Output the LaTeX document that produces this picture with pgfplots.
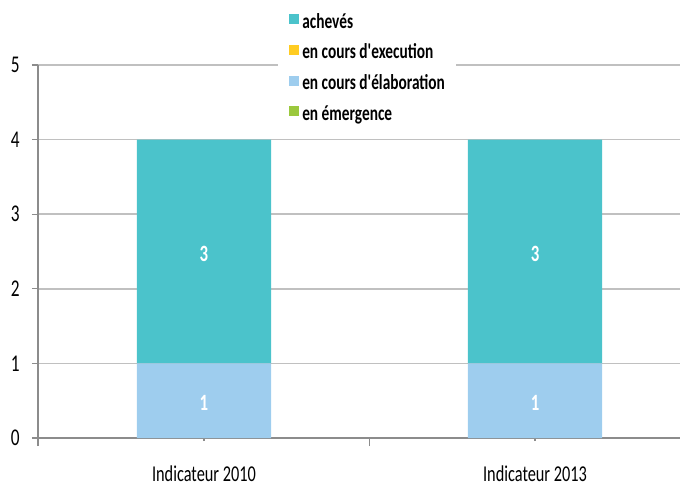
\documentclass[border=0pt]{standalone}
\usepackage{fontspec}
\setmainfont{Carlito}[FakeStretch=0.72, Ligatures=TeXOff]
\usepackage{pgfplots}
\pgfplotsset{compat=1.18}

\definecolor{cAcheves}{RGB}{75,195,203}
\definecolor{cExec}{RGB}{255,204,34}
\definecolor{cElab}{RGB}{158,205,238}
\definecolor{cEmerg}{RGB}{155,200,61}
\definecolor{gridgray}{RGB}{192,192,192}
\definecolor{axisgray}{RGB}{140,140,140}

\begin{document}
\begin{tikzpicture}
\useasboundingbox (-28.5pt,-36pt) rectangle (481.5pt,328.5pt);
\begin{axis}[
  at={(0pt,0pt)}, anchor=south west,
  scale only axis, width=481.5pt, height=279.75pt,
  ybar stacked, bar width=0.405,
  xmin=-0.5015, xmax=1.438, ymin=0, ymax=5,
  xtick={0,1}, xticklabels={Indicateur 2010, Indicateur 2013},
  ytick={0,1,2,3,4,5},
  extra x ticks={-0.5015,0.5},
  extra x tick labels={},
  extra x tick style={grid=none, xtick align=outside, major tick length=6pt},
  xtick align=center, ytick align=outside,
  major tick length=4.5pt,
  tick style={draw=axisgray, line width=1pt},
  ymajorgrids,
  major grid style={draw=gridgray, line width=1.1pt},
  axis x line*=bottom, axis y line*=left,
  every outer x axis line/.append style={-},
  every outer y axis line/.append style={-},
  axis line style={draw=axisgray, line width=1.1pt},
  /pgf/number format/assume math mode=true,
  xticklabel style={font=\fontsize{17}{17}\selectfont, inner sep=0pt, anchor=north, yshift=-18pt},
  yticklabel style={font=\fontsize{18}{18}\selectfont, inner sep=0pt, anchor=east, xshift=-9pt},
  point meta=rawy,
  legend style={at={(0.373,1.1582)}, anchor=north west, fill=white, draw=none,
    font=\bfseries\fontsize{16}{16}\selectfont,
    inner xsep=8.6pt, inner ysep=6pt, row sep=9.5pt, column sep=2.5pt,
    nodes={inner sep=0pt, text height=10pt, text depth=3pt},
    cells={anchor=west}},
  legend cell align=left,
  reverse legend,
  legend image code/.code={\fill[#1] (0pt,-0.5pt) rectangle (7.3pt,7pt);},
]
% stacked from the bottom: émergence, élaboration, exécution, achevés
\addplot[fill=cEmerg, draw=none] coordinates {(0,0) (1,0)};
\addplot[fill=cElab, draw=none, nodes near coords,
  every node near coord/.append style={anchor=center, yshift=-2pt,
    text=white, font=\bfseries\fontsize{17.5}{17.5}\selectfont}]
  coordinates {(0,1) (1,1)};
\addplot[fill=cExec, draw=none] coordinates {(0,0) (1,0)};
\addplot[fill=cAcheves, draw=none, nodes near coords,
  every node near coord/.append style={anchor=center, yshift=-2pt,
    text=white, font=\bfseries\fontsize{17.5}{17.5}\selectfont}]
  coordinates {(0,3) (1,3)};
\legend{en émergence, en cours d'élaboration, en cours d'execution, achevés}
\end{axis}
\end{tikzpicture}
\end{document}
